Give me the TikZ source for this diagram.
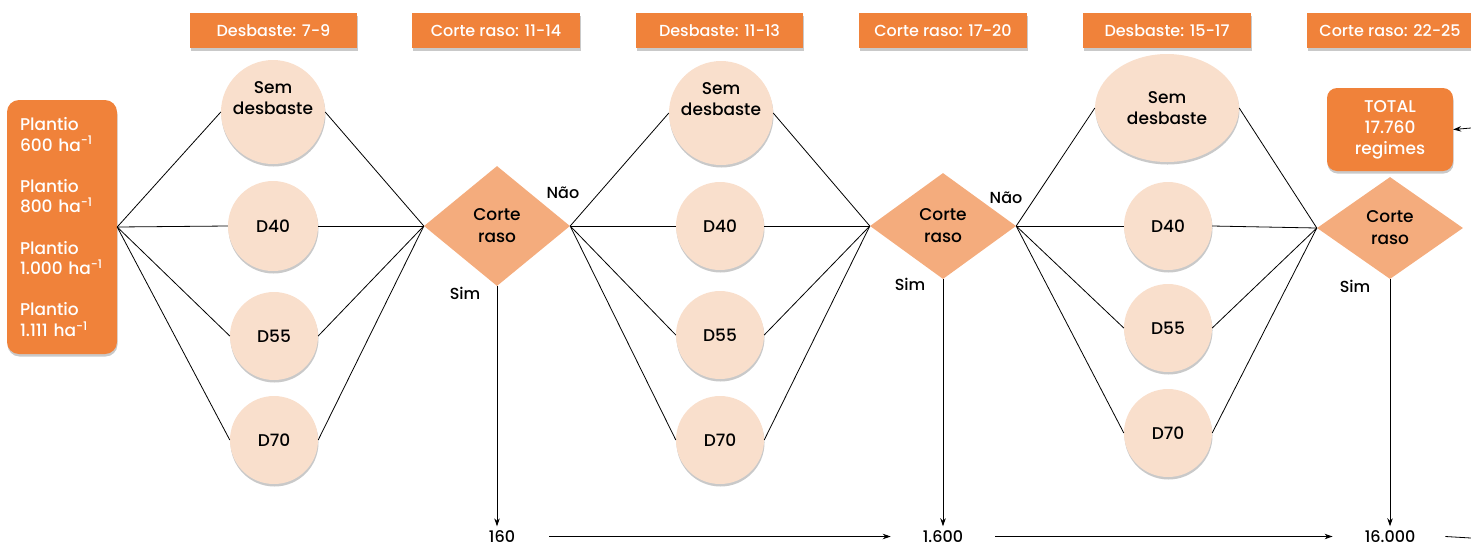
\documentclass[tikz,border=0pt]{standalone}
\usepackage{fontspec}
\setmainfont{Poppins Medium}
\usetikzlibrary{shapes.geometric,arrows.meta,shadows}
\definecolor{org}{HTML}{F0823A}
\definecolor{peach}{HTML}{F9DFCC}
\definecolor{dia}{HTML}{F4AC7D}
\tikzset{
  shd/.style={drop shadow={shadow xshift=0.5pt, shadow yshift=-2.5pt, opacity=0.3, fill=black!70}},
  lab/.style={fill=org, text=white, minimum height=35pt, inner sep=0pt, font=\fontsize{16}{20}\selectfont, shd},
  circ/.style={circle, fill=peach, inner sep=0pt, align=center, font=\fontsize{17}{21}\selectfont, shd},
  ell/.style={ellipse, fill=peach, inner sep=0pt, align=center, font=\fontsize{17}{21}\selectfont, shd},
  dmd/.style={diamond, fill=dia, inner sep=0pt, align=center, font=\fontsize{17}{22}\selectfont},
  lbl/.style={font=\fontsize{16}{20}\selectfont, inner sep=1pt},
  link/.style={draw=black, line width=0.8pt},
  arr/.style={draw=black, line width=0.8pt, -{Stealth[length=8pt,width=5.5pt]}}
}
\begin{document}
\begin{tikzpicture}[x=1pt,y=-1pt]
\useasboundingbox (0,0) rectangle (1471,547);
% top labels
\node[lab, minimum width=167pt] (t1) at (273.5,30.5) {Desbaste: 7-9};
\node[lab, minimum width=168pt] (t2) at (496,30.5) {Corte raso: 11-14};
\node[lab, minimum width=167pt] (t3) at (719.5,30.5) {Desbaste: 11-13};
\node[lab, minimum width=168pt] (t4) at (943,30.5) {Corte raso: 17-20};
\node[lab, minimum width=168pt] (t5) at (1167,30.5) {Desbaste: 15-17};
\node[lab, minimum width=166pt] (t6) at (1390,30.5) {Corte raso: 22-25};
% plantio box
\node[fill=org, text=white, rounded corners=12pt, text width=84pt, inner xsep=13pt, inner ysep=0pt,
      minimum height=254pt, align=left, font=\fontsize{17}{20.6}\selectfont, shd] (p) at (62,227)
  {Plantio\\600 ha\textsuperscript{-1}\\[20.6pt]Plantio\\800 ha\textsuperscript{-1}\\[20.6pt]Plantio\\1.000 ha\textsuperscript{-1}\\[20.6pt]Plantio\\1.111 ha\textsuperscript{-1}};
% column 1
\node[circ, minimum size=104pt] (a1) at (273,112) {Sem\\desbaste\\\strut};
\node[circ, minimum size=90pt] (a2) at (273,226) {D40};
\node[circ, minimum size=88pt] (a3) at (274,336) {D55};
\node[circ, minimum size=88pt] (a4) at (274,440) {D70};
% column 2
\node[circ, minimum size=104pt] (b1) at (721,113) {Sem\\desbaste\\\strut};
\node[circ, minimum size=88pt] (b2) at (720,226) {D40};
\node[circ, minimum size=88pt] (b3) at (720,335) {D55};
\node[circ, minimum size=88pt] (b4) at (720,440) {D70};
% column 3
\node[ell, minimum width=144pt, minimum height=108pt] (c1) at (1167,108) {Sem\\desbaste};
\node[circ, minimum size=88pt] (c2) at (1168,226) {D40};
\node[circ, minimum size=88pt] (c3) at (1168,328) {D55};
\node[circ, minimum size=88pt] (c4) at (1168,433) {D70};
% diamonds
\node[dmd, minimum width=146pt, minimum height=120pt] (d1) at (497,226) {Corte\\raso};
\node[dmd, minimum width=146pt, minimum height=106pt] (d2) at (943,226) {Corte\\raso};
\node[dmd, minimum width=146pt, minimum height=102pt] (d3) at (1390,228) {Corte\\raso};
% total
\node[fill=org, text=white, rounded corners=10pt, minimum width=126pt, minimum height=83pt, inner sep=0pt,
      align=center, font=\fontsize{17}{21}\selectfont, shd] (total) at (1390,129.5) {TOTAL\\17.760\\regimes};
% labels
\node[lbl] (nao1) at (563,193) {Não};
\node[lbl] (nao2) at (1006,198) {Não};
\node[lbl] (sim1) at (465,293) {Sim};
\node[lbl] (sim2) at (910,284) {Sim};
\node[lbl] (sim3) at (1355,286) {Sim};
% numbers
\node[lbl] (n1) at (502,536.5) {160};
\node[lbl] (n2) at (943,536.5) {1.600};
\node[lbl] (n3) at (1390,536.5) {16.000};
\coordinate (r1) at (1471,538);
\coordinate (r2) at (1471,128);
% connectors
\foreach \i in {1,...,4}{
  \draw[link] (p.east) -- (a\i.west);
  \draw[link] (a\i.east) -- (d1.west);
  \draw[link] (d1.east) -- (b\i.west);
  \draw[link] (b\i.east) -- (d2.west);
  \draw[link] (d2.east) -- (c\i.west);
  \draw[link] (c\i.east) -- (d3.west);
}
\draw[arr] (d1.south) -- ([yshift=3pt]d1.south |- n1.north);
\draw[arr] (d2.south) -- ([yshift=3pt]d2.south |- n2.north);
\draw[arr] (d3.south) -- ([yshift=3pt]d3.south |- n3.north);
\draw[arr] ([xshift=33pt]n1.east) -- ([xshift=-31pt]n2.west);
\draw[arr] ([xshift=31pt]n2.east) -- ([xshift=-31pt]n3.west);
\draw[link] ([xshift=29pt]n3.east) -- (r1);
\draw[arr] (r2) -- (total.east);
\end{tikzpicture}
\end{document}
